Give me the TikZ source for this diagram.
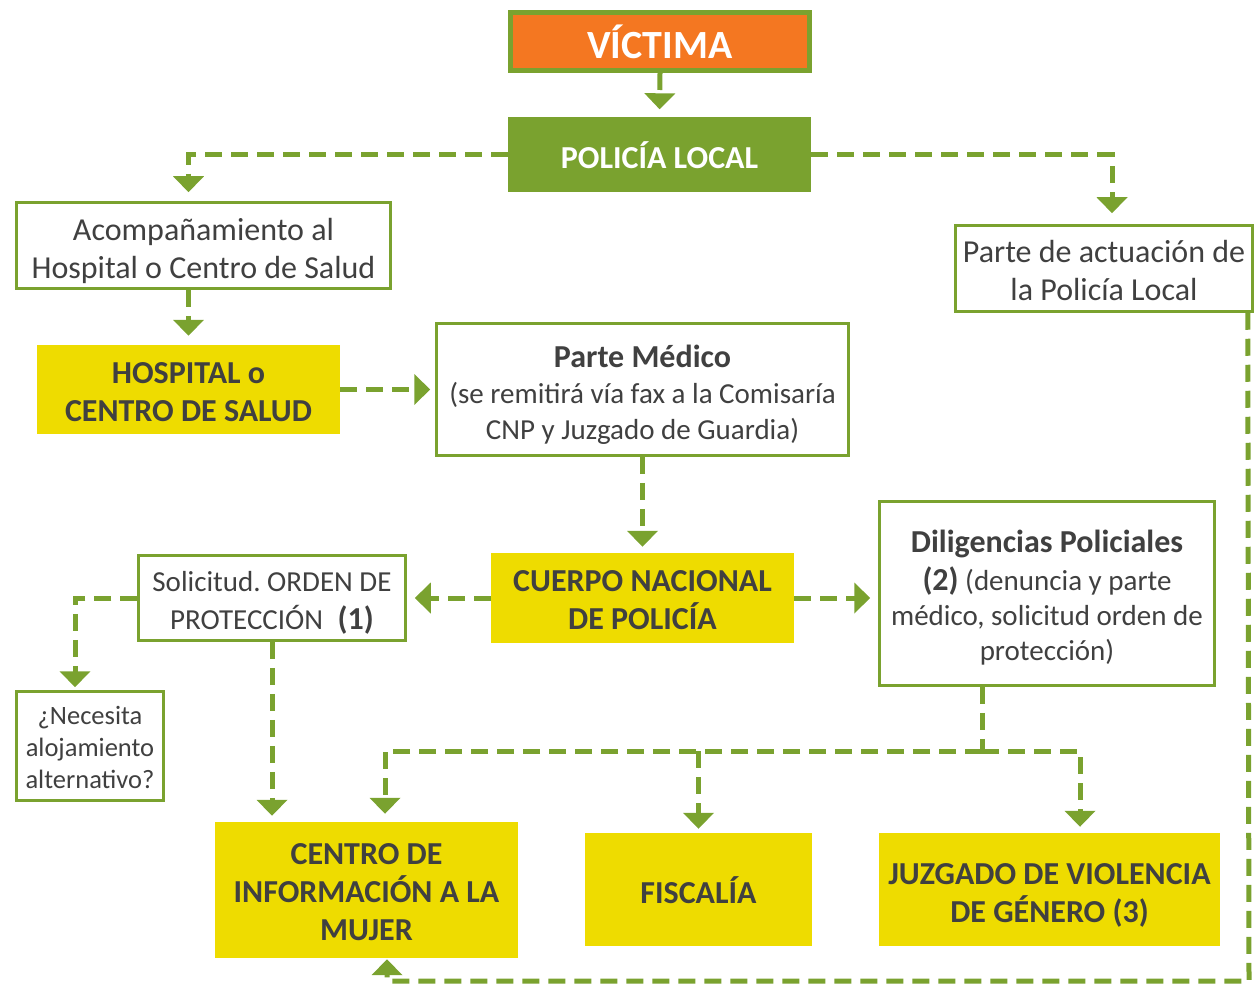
\documentclass[tikz,border=0pt]{standalone}
\usepackage{fontspec}
\setmainfont{Carlito}
\usetikzlibrary{arrows.meta,calc}
\definecolor{lgreen}{HTML}{7AA22F}
\definecolor{vorange}{HTML}{F47721}
\definecolor{vyellow}{HTML}{EEDC00}
\definecolor{tgray}{HTML}{404040}
\newcommand{\fsn}{\fontsize{32}{38}\selectfont}
\newcommand{\fsm}{\fontsize{29}{36}\selectfont}
\newcommand{\fss}{\fontsize{26.5}{32}\selectfont}
\newcommand{\bigb}[1]{{\fontsize{32}{36}\selectfont\bfseries #1}}
\newcommand{\tp}[1]{\rule{0pt}{#1pt}}
\frenchspacing
\tikzset{
  whitebox/.style={draw=lgreen, line width=2.5pt, fill=white, text=tgray, align=center, inner sep=0pt, font=\fsn},
  yellowbox/.style={fill=vyellow, text=tgray, align=center, inner sep=0pt, font=\fsn\bfseries},
  flowline/.style={draw=lgreen, line width=5pt, dash pattern=on 17pt off 9pt},
  flow/.style={flowline, -{Triangle[width=30pt,length=16pt]}, shorten >=7pt},
}
\begin{document}
\begin{tikzpicture}[x=1pt,y=-1pt]
\useasboundingbox (0,0) rectangle (1255,984);
% nodes
\node[draw=lgreen, line width=5pt, fill=vorange, text=white, font=\fontsize{40}{46}\selectfont\bfseries,
      minimum width=299pt, minimum height=58pt, inner sep=0pt] (victima) at (660,41.5) {VÍCTIMA};
\node[fill=lgreen, text=white, font=\fontsize{32}{36}\selectfont\bfseries,
      minimum width=303pt, minimum height=75pt, inner sep=0pt] (policia) at (659.5,155) {POLICÍA LOCAL};
\node[whitebox, minimum width=374pt, minimum height=86pt] (acomp) at (203.5,245.5)
  {\tp{33}Acompañamiento al\\Hospital o Centro de Salud};
\node[whitebox, minimum width=297pt, minimum height=86pt] (parteact) at (1104,268.5)
  {\tp{27}Parte de actuación de\\la Policía Local};
\node[yellowbox, minimum width=303pt, minimum height=89pt] (hospital) at (188.5,389.5)
  {\tp{26.6}HOSPITAL o\\CENTRO DE SALUD};
\node[whitebox, font=\fsm, minimum width=412pt, minimum height=132pt] (medico) at (642.5,389.5)
  {\tp{33}\bigb{Parte Médico}\\(se remitirá vía fax a la Comisaría\\CNP y Juzgado de Guardia)};
\node[yellowbox, minimum width=303pt, minimum height=90pt] (cnp) at (642.5,598)
  {\tp{25.6}CUERPO NACIONAL\\DE POLICÍA};
\node[whitebox, font=\fontsize{29}{38}\selectfont, minimum width=267pt, minimum height=85pt] (solicitud) at (272,598)
  {\tp{30.6}Solicitud. ORDEN DE\\PROTECCIÓN\enspace\bigb{(1)}};
\node[whitebox, font=\fontsize{29}{35}\selectfont, minimum width=335pt, minimum height=184pt] (dilig) at (1047,593.5)
  {\tp{29.7}\bigb{Diligencias Policiales}\\[3pt]\bigb{(2)} (denuncia y parte\\médico, solicitud orden de\\protección)};
\node[whitebox, font=\fss, minimum width=147pt, minimum height=109pt] (necesita) at (90,746)
  {\tp{21}¿Necesita\\alojamiento\\alternativo?};
\node[yellowbox, minimum width=303pt, minimum height=136pt] (cim) at (366.5,890)
  {\tp{25.6}CENTRO DE\\INFORMACIÓN A LA\\MUJER};
\node[yellowbox, minimum width=227pt, minimum height=113pt] (fiscalia) at (698.5,889.5)
  {\tp{27.6}FISCALÍA};
\node[yellowbox, minimum width=341pt, minimum height=113pt] (juzgado) at (1049.5,889.5)
  {\tp{32.6}JUZGADO DE VIOLENCIA\\DE GÉNERO (3)};
% helper coordinates
\coordinate (an) at (hospital.north |- acomp.north);
\coordinate (pa) at ($(parteact.north)+(8,0)$);
\coordinate (nn) at ($(necesita.north)+(-15,0)$);
\coordinate (ds) at ($(dilig.south)+(-65,0)$);
\coordinate (jn) at (982,751);
\coordinate (cimn) at ($(cim.north)+(18.5,0)$);
\coordinate (juzn) at ($(juzgado.north)+(30.5,0)$);
\coordinate (pas) at ($(parteact.south east)+(-6,0)$);
\coordinate (br) at (1249,981);
\coordinate (cims) at ($(cim.south)+(20.5,0)$);
% connectors
\draw[flow, shorten >=8pt] (victima.south) -- (policia.north);
\draw[flow, shorten >=9pt] (policia.west) -| (an);
\draw[flow, shorten >=11pt] (policia.east) -| (pa);
\draw[flow, shorten >=9pt] (hospital.north |- acomp.south) -- (hospital.north);
\draw[flow, shorten >=5pt] (hospital.east) -- (medico.west |- hospital.east);
\draw[flow, shorten >=6pt] (medico.south) -- (cnp.north);
\draw[flow, shorten >=8pt] (cnp.west) -- (solicitud.east |- cnp.west);
\draw[flow, shorten >=8pt] (cnp.east) -- (dilig.west |- cnp.east);
\draw[flow, shorten >=3pt] (solicitud.west) -| (nn);
\draw[flow, shorten >=6pt] (solicitud.south) -- (solicitud.south |- cim.north);
\draw[flowline] (ds) -- (jn);
\draw[flow, shorten >=8pt] (jn) -| (cimn);
\draw[flow, shorten >=6pt] (jn) -| (juzn);
\draw[flow, shorten >=4pt] (fiscalia.north |- jn) -- (fiscalia.north);
\draw[flow, shorten >=1pt] (pas) -- (br) -| (cims);
\end{tikzpicture}
\end{document}
